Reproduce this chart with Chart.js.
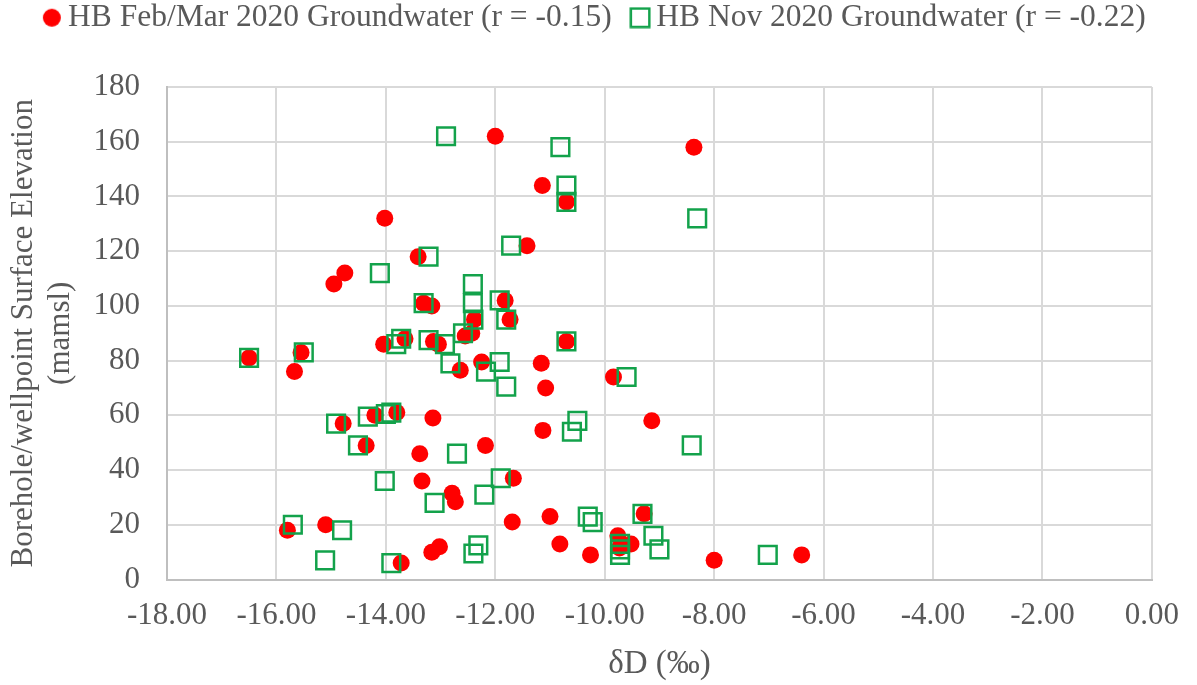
<!DOCTYPE html>
<html>
<head>
<meta charset="utf-8">
<script src="https://cdn.jsdelivr.net/npm/chart.js@4.4.1/dist/chart.umd.min.js"></script>
<style>
  html, body { margin: 0; padding: 0; background: #fff; }
  #wrap { width: 1197px; height: 685px; }
</style>
</head>
<body>
<div id="wrap"><canvas id="scatter"></canvas></div>
<script>
const febLabel = "HB Feb/Mar 2020 Groundwater (r = -0.15)";
const novLabel = "HB Nov 2020 Groundwater (r = -0.22)";

// δD (‰) and elevation (mamsl)
const febX = [-12.0, -8.37, -11.14, -10.7, -14.02, -11.42, -13.41, -14.75, -14.95, -13.31,
  -13.16, -11.82, -11.73, -12.38, -16.5, -15.55, -15.67, -14.04, -13.65, -13.13,
  -13.04, -12.55, -12.43, -12.64, -12.25, -10.7, -11.16, -11.08, -9.84, -14.78,
  -14.2, -13.8, -13.14, -14.36, -13.38, -12.18, -11.13, -9.14, -13.34, -12.79,
  -12.73, -11.67, -11.69, -11.0, -15.8, -15.1, -13.72, -13.16, -13.02, -10.82,
  -10.26, -9.76, -9.52, -9.73, -9.28, -8.0, -6.4];
const febY = [162, 158, 144, 138, 132, 122, 118, 112, 108, 101,
  100, 102, 95, 95, 81, 83, 76, 86, 88, 87,
  86, 89, 90, 76.5, 79.5, 87, 79, 70, 74, 57,
  60, 61, 59, 49, 46, 49, 54.5, 58, 36, 31.5,
  28.4, 37, 21, 23, 18, 20, 6, 10, 12, 13,
  9, 16, 13, 11.5, 24, 7, 9];

const novX = [-12.9, -10.81, -10.7, -10.7, -8.31, -11.71, -13.22, -14.11, -12.41, -13.31,
  -12.41, -11.92, -11.8, -12.4, -16.5, -15.5, -13.81, -13.72, -13.22, -12.92,
  -12.59, -12.82, -12.17, -11.92, -11.8, -10.7, -9.6, -14.91, -14.33, -14.0,
  -13.9, -14.51, -12.7, -10.5, -10.6, -8.41, -14.02, -13.11, -11.9, -12.2,
  -15.7, -14.8, -15.11, -13.9, -12.4, -12.31, -10.31, -10.22, -9.31, -9.72,
  -9.72, -9.72, -9.11, -9.0, -7.02];
const novY = [162, 158, 144, 138, 132, 122, 118, 112, 108, 101,
  101, 102, 95, 95, 81, 83, 86, 88, 87.5, 86,
  90, 79, 76, 79.5, 70.5, 87, 74, 57, 59.5, 60.5,
  61, 49, 46, 58, 54, 49, 36, 28, 37, 31,
  20, 18, 7, 6, 9.5, 12.5, 23, 21, 24, 13,
  11, 9, 16, 11, 9];

const xTicks = [-18, -16, -14, -12, -10, -8, -6, -4, -2, 0];
const yTicks = [0, 20, 40, 60, 80, 100, 120, 140, 160, 180];

const serif = "'Liberation Serif', 'Times New Roman', serif";
const textGrey = "#595959";
const gridGrey = "#d9d9d9";
const red = "#ff0000";
const green = "#13a24b";

function pairs(xs, ys) {
  return xs.map((x, i) => ({ x: x, y: ys[i] }));
}

// small marker images for the legend (sized like the original key)
function legendMark(kind) {
  const c = document.createElement("canvas");
  c.width = 22;
  c.height = 22;
  const g = c.getContext("2d");
  if (kind === "dot") {
    g.fillStyle = red;
    g.beginPath();
    g.arc(11, 11, 9, 0, Math.PI * 2);
    g.fill();
  } else {
    g.strokeStyle = green;
    g.lineWidth = 2.5;
    g.strokeRect(1.75, 1.75, 18.5, 18.5);
  }
  return c;
}
const legendMarks = [legendMark("dot"), legendMark("square")];

// legend band is fixed so the plot starts where the original does,
// and the key row is centred on the whole canvas, close to the top
const legendBand = {
  id: "legendBand",
  beforeInit(chart) {
    const legend = chart.legend;
    const fit = legend.fit;
    legend.fit = function () {
      fit.call(legend);
      this.height = 87;
    };
    const draw = legend.draw;
    legend.draw = function () {
      const ctx = chart.ctx;
      ctx.save();
      ctx.translate((chart.width - this.right) / 2, -26);
      draw.call(legend);
      ctx.restore();
    };
  },
};

const config = {
  type: "scatter",
  data: {
    datasets: [
      {
        label: febLabel,
        data: pairs(febX, febY),
        pointStyle: "circle",
        pointRadius: 8.5,
        pointHoverRadius: 8.5,
        backgroundColor: red,
        borderColor: red,
        borderWidth: 0,
        order: 1,
      },
      {
        label: novLabel,
        data: pairs(novX, novY),
        pointStyle: "rect",
        pointRadius: 12.5,
        pointHoverRadius: 12.5,
        backgroundColor: "rgba(0,0,0,0)",
        borderColor: green,
        borderWidth: 2.5,
        order: 0,
      },
    ],
  },
  options: {
    responsive: true,
    maintainAspectRatio: false,
    animation: false,
    layout: { padding: { left: 0, right: 40, top: 0, bottom: 0 } },
    plugins: {
      tooltip: { enabled: false },
      legend: {
        position: "top",
        labels: {
          usePointStyle: true,
          pointStyleWidth: 1,
          padding: 28,
          color: textGrey,
          font: { family: serif, size: 31.5 },
          sort: (a, b) => a.datasetIndex - b.datasetIndex,
          generateLabels: (chart) => {
            const items = Chart.defaults.plugins.legend.labels.generateLabels(chart);
            items.forEach((it) => {
              it.pointStyle = legendMarks[it.datasetIndex];
            });
            return items;
          },
        },
      },
    },
    scales: {
      x: {
        type: "linear",
        min: -18,
        max: 0,
        afterBuildTicks: (scale) => {
          scale.ticks = xTicks.map((v) => ({ value: v }));
        },
        afterFit: (scale) => {
          scale.height = 105.5;
        },
        ticks: {
          color: textGrey,
          font: { family: serif, size: 31 },
          padding: 18,
          callback: (v) => Number(v).toFixed(2),
        },
        grid: { color: gridGrey, lineWidth: 2, drawTicks: false },
        border: { color: "#bfbfbf", width: 2 },
        title: {
          display: true,
          text: "δD (‰)",
          color: textGrey,
          font: { family: serif, size: 33 },
          padding: { top: 0, bottom: 1 },
        },
      },
      y: {
        type: "linear",
        min: 0,
        max: 180,
        afterBuildTicks: (scale) => {
          scale.ticks = yTicks.map((v) => ({ value: v }));
        },
        afterFit: (scale) => {
          scale.width = 167;
        },
        ticks: {
          color: textGrey,
          font: { family: serif, size: 31 },
          padding: 27,
        },
        grid: { color: gridGrey, lineWidth: 2, drawTicks: false },
        border: { color: "#bfbfbf", width: 2 },
        title: {
          display: true,
          text: ["Borehole/wellpoint Surface Elevation", "(mamsl)"],
          color: textGrey,
          font: { family: serif, size: 31, lineHeight: 1.2 },
          padding: { top: 5, bottom: 0 },
        },
      },
    },
  },
  plugins: [legendBand],
};

new Chart(document.getElementById("scatter"), config);
</script>
</body>
</html>
